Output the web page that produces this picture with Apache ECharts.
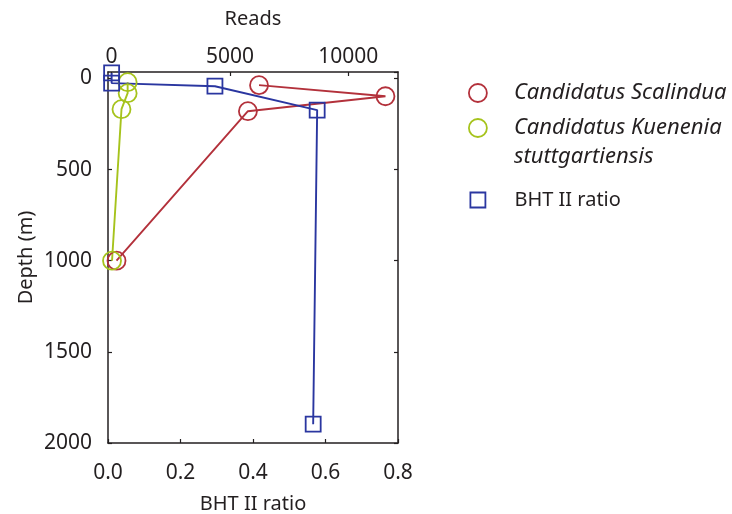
<!DOCTYPE html>
<html>
<head>
<meta charset="utf-8">
<script src="https://cdn.jsdelivr.net/npm/echarts@6/dist/echarts.min.js"></script>
<style>html,body{margin:0;padding:0;background:#fff}#c{width:732px;height:514px}</style>
</head>
<body>
<div id="c"></div>
<script>
// ---- data ----
const seriesNames = ['Candidatus Scalindua', 'Candidatus Kuenenia stuttgartiensis', 'BHT II ratio'];
// [reads, depth m]
const scalinduaReads = [[6230, 37], [11570, 98], [5760, 180], [210, 1000]];
const kueneniaReads = [[680, 21], [680, 81], [420, 169], [20, 1000]];
// [ratio, depth m]
const bhtRatio = [[0.01, -30], [0.01, 26], [0.295, 43], [0.577, 174], [0.566, 1897]];

const RED = '#b3313b', GREEN = '#a6c31c', BLUE = '#2a36a0', INK = '#231f20';
const FONT = 'Noto Sans';

const chart = echarts.init(document.getElementById('c'), null, {renderer: 'canvas'});
const axisLine = {show: true, onZero: false, lineStyle: {color: INK, width: 1.5}};
const tick = {show: true, inside: true, length: 4, lineStyle: {color: INK, width: 1.2}};
const lbl = {color: INK, fontFamily: FONT, fontSize: 21};
const colorOf = {};
colorOf[seriesNames[0]] = RED; colorOf[seriesNames[1]] = GREEN; colorOf[seriesNames[2]] = BLUE;

function lineSeries(name, data, color, symbol, size, xIdx) {
  return {
    name, type: 'line', data, xAxisIndex: xIdx, yAxisIndex: 0,
    symbol, symbolSize: size, clip: false,
    lineStyle: {color, width: 1.9},
    itemStyle: {color: 'rgba(0,0,0,0)', borderColor: color, borderWidth: 1.8},
    emphasis: {disabled: true}
  };
}
function legendFor(name, icon, size, top, textStyle) {
  return {
    left: 477 - size / 2, top, orient: 'vertical', padding: 0,
    itemWidth: size, itemHeight: size, selectedMode: false,
    data: [{name, icon, itemStyle: {color: 'rgba(0,0,0,0)', borderColor: colorOf[name], borderWidth: 1.8}}],
    formatter: n => n === seriesNames[1] ? '\nCandidatus Kuenenia\nstuttgartiensis' : n,
    textStyle: Object.assign({color: INK, fontFamily: FONT, fontSize: 22}, textStyle)
  };
}
const plain = v => String(v);

chart.setOption({
  animation: false,
  grid: {left: 108, right: 334, top: 72, bottom: 71, containLabel: false, outerBoundsMode: 'none'},
  xAxis: [
    {type: 'value', position: 'bottom', min: 0, max: 0.8, interval: 0.2,
     name: 'BHT II ratio', nameLocation: 'middle', nameGap: 51,
     nameTextStyle: {color: INK, fontFamily: FONT, fontSize: 20},
     axisLine, axisTick: tick, splitLine: {show: false},
     axisLabel: Object.assign({margin: 20, formatter: v => v.toFixed(1)}, lbl)},
    {type: 'value', position: 'top', min: -150, max: 12100, splitNumber: 2,
     name: 'Reads', nameLocation: 'middle', nameGap: 43,
     nameTextStyle: {color: INK, fontFamily: FONT, fontSize: 20},
     axisLine, axisTick: tick, splitLine: {show: false},
     axisLabel: Object.assign({margin: 4, showMinLabel: false, showMaxLabel: false, formatter: plain}, lbl)}
  ],
  yAxis: [
    {type: 'value', inverse: true, min: -35, max: 2000, splitNumber: 4, position: 'left',
     name: 'Depth (m)', nameLocation: 'middle', nameGap: 72,
     nameTextStyle: {color: INK, fontFamily: FONT, fontSize: 20},
     axisLine, axisTick: tick, splitLine: {show: false},
     axisLabel: Object.assign({margin: 16, showMinLabel: false, formatter: plain}, lbl)},
    {type: 'value', inverse: true, min: -35, max: 2000, splitNumber: 4, position: 'right',
     axisLine, axisTick: tick, splitLine: {show: false}, axisLabel: {show: false}}
  ],
  legend: [
    legendFor(seriesNames[0], 'circle', 18, 93 - 13, {fontStyle: 'italic', lineHeight: 26, padding: [0, 0, 0, 22]}),
    legendFor(seriesNames[1], 'circle', 18, 128 - 43.5, {fontStyle: 'italic', lineHeight: 29, padding: [0, 0, 0, 22]}),
    legendFor(seriesNames[2], 'rect', 15, 200 - 13, {fontSize: 20, lineHeight: 26, padding: [0, 0, 0, 24]})
  ],
  series: [
    lineSeries(seriesNames[0], scalinduaReads, RED, 'circle', 18, 1),
    lineSeries(seriesNames[1], kueneniaReads, GREEN, 'circle', 18, 1),
    lineSeries(seriesNames[2], bhtRatio, BLUE, 'rect', 15, 0)
  ]
});
</script>
</body>
</html>
